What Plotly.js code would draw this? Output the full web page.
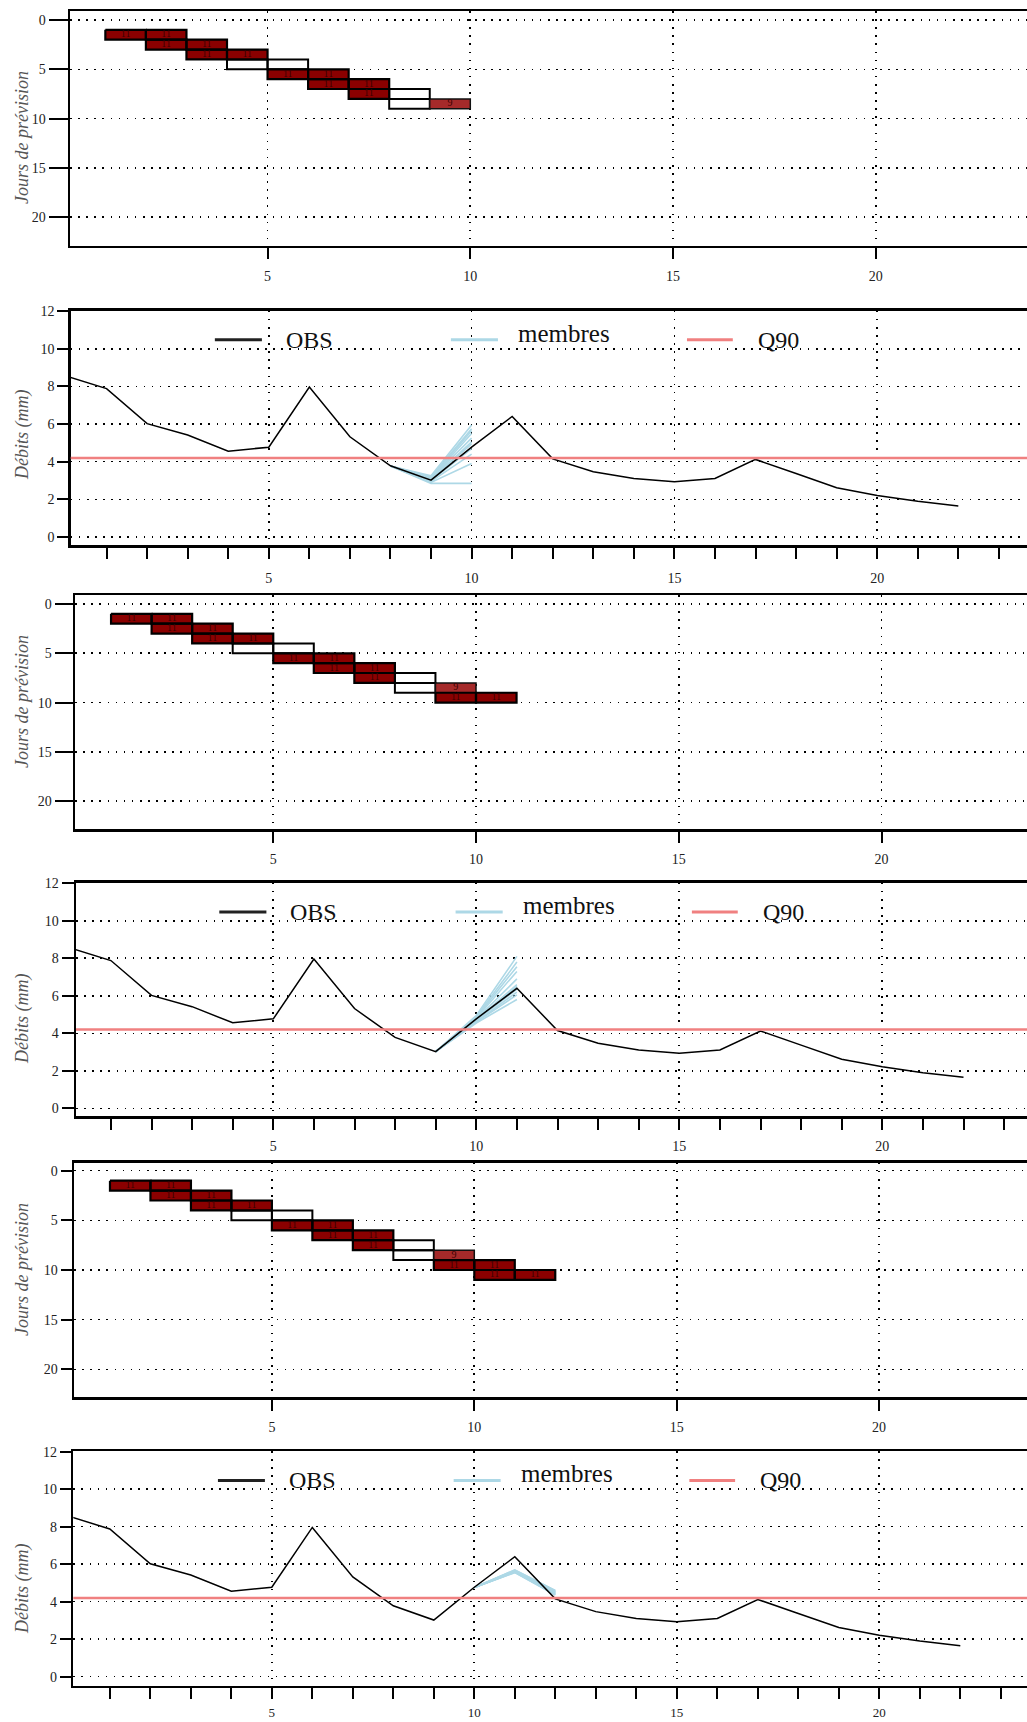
<!DOCTYPE html>
<html><head><meta charset="utf-8">
<script src="https://cdn.plot.ly/plotly-3.0.1.min.js"></script>
<style>html,body{margin:0;padding:0;background:#fff}#chart{width:1027px;height:1722px}</style>
</head><body><div id="chart"></div>
<script>
// ---------------- DATA ----------------
const days = [0,1,2,3,4,5,6,7,8,9,10,11,12,13,14,15,16,17,18,19,20,21,22];
const obs  = [8.55,7.88,6.02,5.42,4.56,4.77,7.96,5.32,3.78,3.02,4.77,6.4,4.15,3.47,3.11,2.93,3.11,4.12,3.37,2.62,2.21,1.9,1.65];
const q90 = 4.2;

// forecast-day grids: row = lead day, col = day, count = members above Q90
const heat1Row   = [1,1,2,2,3,3,4,4,5,5,6,6,7,7,8,8];
const heat1Col   = [1,2,2,3,3,4,4,5,5,6,6,7,7,8,8,9];
const heat1Count = [11,11,11,11,11,11,0,0,11,11,11,11,11,0,0,9];

const heat2Row   = [1,1,2,2,3,3,4,4,5,5,6,6,7,7,8,8,9,9];
const heat2Col   = [1,2,2,3,3,4,4,5,5,6,6,7,7,8,8,9,9,10];
const heat2Count = [11,11,11,11,11,11,0,0,11,11,11,11,11,0,0,9,11,11];

const heat3Row   = [1,1,2,2,3,3,4,4,5,5,6,6,7,7,8,8,9,9,10,10];
const heat3Col   = [1,2,2,3,3,4,4,5,5,6,6,7,7,8,8,9,9,10,10,11];
const heat3Count = [11,11,11,11,11,11,0,0,11,11,11,11,11,0,0,9,11,11,11,11];

// ensemble members
const mem1Days = [8,9,10];
const mem1 = [
  [3.77,2.85,2.85],[3.77,2.9,3.9],[3.77,2.95,4.4],[3.77,3.0,4.7],[3.77,3.05,4.95],
  [3.77,3.05,5.05],[3.77,3.1,5.25],[3.77,3.1,5.5],[3.77,3.15,5.65],[3.77,3.2,5.75],[3.77,3.25,5.95]
];
const mem2Days = [9,10,11];
const mem2 = [
  [3.02,4.55,5.8],[3.02,4.6,6.05],[3.02,4.62,6.2],[3.02,4.66,6.35],[3.02,4.7,6.5],
  [3.02,4.72,6.6],[3.02,4.75,6.9],[3.02,4.8,7.3],[3.02,4.85,7.55],[3.02,4.9,7.8],[3.02,4.95,8.1]
];
const mem3Days = [10,11,12];
const mem3 = [
  [4.76,5.55,4.35],[4.76,5.57,4.38],[4.76,5.58,4.4],[4.76,5.6,4.42],[4.76,5.61,4.45],
  [4.76,5.62,4.48],[4.76,5.63,4.5],[4.76,5.65,4.52],[4.76,5.66,4.55],[4.76,5.68,4.58],[4.76,5.7,4.6]
];

// ---------------- LAYOUT GEOMETRY (px) ----------------
const W = 1027, H = 1722;
const FONT = 'Liberation Serif, Times New Roman, serif';
const geo = [
  {kind:'heat', L:70,   top:11,     bot:245.6,  x0:64.8, ux:40.55, y0:20,     uy:9.86,  ytl:19, tcy:138,  so:5},
  {kind:'line', L:70.7, top:310.7,  bot:545,    x0:66.0, ux:40.56, y0:537,    uy:18.83, ytl:11, tcy:435,  so:8},
  {kind:'heat', L:75.1, top:595,    bot:829,    x0:70.5, ux:40.55, y0:604,    uy:9.86,  ytl:18, tcy:702,  so:5},
  {kind:'line', L:76,   top:882.7,  bot:1116,   x0:70.3, ux:40.6,  y0:1108.3, uy:18.75, ytl:12, tcy:1019, so:5},
  {kind:'heat', L:74,   top:1162.7, bot:1397,   x0:69.5, ux:40.48, y0:1170.7, uy:9.93,  ytl:11, tcy:1270, so:5},
  {kind:'line', L:73.3, top:1451,   bot:1685.7, x0:69.3, ux:40.5,  y0:1676.7, uy:18.75, ytl:11, tcy:1589, so:2}
];

const heats = [
  {row:heat1Row, col:heat1Col, cnt:heat1Count},
  {row:heat2Row, col:heat2Col, cnt:heat2Count},
  {row:heat3Row, col:heat3Col, cnt:heat3Count}
];
const mems = [{d:mem1Days, m:mem1},{d:mem2Days, m:mem2},{d:mem3Days, m:mem3}];

const traces = [];
const layout = {
  width: W, height: H, margin:{l:0,r:0,t:0,b:0},
  paper_bgcolor:'#fff', plot_bgcolor:'#fff', showlegend:false,
  font:{family:FONT, color:'#222'}, hovermode:false,
  shapes:[], annotations:[]
};

const gridDash = '1.6px,6.5px';
function axisBase(){
  return {
    showline:true, linecolor:'#000', linewidth:2.5,
    ticks:'outside', tickcolor:'#000', tickwidth:2,
    showgrid:true, gridcolor:'#000', gridwidth:1.6, griddash:gridDash,
    zeroline:false, tickfont:{family:FONT, size:14, color:'#222'},
    fixedrange:true
  };
}

function cellPolys(h, pick){
  const xs=[], ys=[];
  for(let i=0;i<h.cnt.length;i++){
    if(!pick(h.cnt[i])) continue;
    const c=h.col[i], r=h.row[i];
    xs.push(c, c+1, c+1, c, c, null);
    ys.push(r, r, r+1, r+1, r, null);
  }
  return {x:xs, y:ys};
}

geo.forEach((g, k) => {
  const n = k+1;
  const xa = 'x'+(n===1?'':n), ya = 'y'+(n===1?'':n);
  const xName = 'xaxis'+(n===1?'':n), yName = 'yaxis'+(n===1?'':n);
  const xr = [(g.L-g.x0)/g.ux, (W-g.x0)/g.ux];
  const xAx = Object.assign(axisBase(), {
    domain:[g.L/W, 1], anchor:ya, range:xr, tick0:0, dtick:5,
    ticklen:11, mirror:true, ticklabelstandoff:g.so
  });
  if(n===6) xAx.tickfont = {family:FONT, size:13, color:'#222'};
  const yAx = Object.assign(axisBase(), {
    domain:[1-g.bot/H, 1-g.top/H], anchor:xa, ticklen:g.ytl, mirror:false
  });
  if(g.kind==='heat'){
    yAx.range = [(g.bot-g.y0)/g.uy, (g.top-g.y0)/g.uy];
    yAx.tick0 = 0; yAx.dtick = 5;
  } else {
    yAx.range = [(g.y0-g.bot)/g.uy, (g.y0-g.top)/g.uy];
    yAx.tick0 = 0; yAx.dtick = 2;
    xAx.minor = {dtick:1, tick0:0, ticks:'outside', ticklen:11, tickwidth:2, tickcolor:'#000', showgrid:false};
  }
  layout[xName] = xAx; layout[yName] = yAx;

  // y title
  layout.annotations.push({
    xref:'paper', yref:'paper', x:22/W, y:1-g.tcy/H, xanchor:'center', yanchor:'middle',
    textangle:-90, showarrow:false,
    text: g.kind==='heat' ? '<i>Jours de prévision</i>' : '<i>Débits (mm)</i>',
    font:{family:FONT, size:18, color:'#555'}
  });

  if(g.kind==='heat'){
    const h = heats[(n-1)/2];
    const white = cellPolys(h, c=>c===0);
    traces.push({type:'scatter', mode:'lines', x:white.x, y:white.y, xaxis:xa, yaxis:ya,
      fill:'toself', fillcolor:'#fff', line:{color:'#000', width:2}});
    const light = cellPolys(h, c=>c>0 && c<11);
    traces.push({type:'scatter', mode:'lines', x:light.x, y:light.y, xaxis:xa, yaxis:ya,
      fill:'toself', fillcolor:'#A52A2A', line:{color:'#111', width:1.5}});
    const dark = cellPolys(h, c=>c>=11);
    traces.push({type:'scatter', mode:'lines', x:dark.x, y:dark.y, xaxis:xa, yaxis:ya,
      fill:'toself', fillcolor:'#8B0000', line:{color:'#000', width:2.2}});
    const tx=[], ty=[], tt=[];
    h.cnt.forEach((c,i)=>{ if(c>0){ tx.push(h.col[i]+0.5); ty.push(h.row[i]+0.5); tt.push(String(c)); }});
    traces.push({type:'scatter', mode:'text', x:tx, y:ty, text:tt, xaxis:xa, yaxis:ya,
      textfont:{family:FONT, size:10, color:'#3a0000'}});
  } else {
    const m = mems[n/2-1];
    const mx=[], my=[];
    m.m.forEach(arr=>{ arr.forEach((v,j)=>{ mx.push(m.d[j]); my.push(v); }); mx.push(null); my.push(null); });
    traces.push({type:'scatter', mode:'lines', x:mx, y:my, xaxis:xa, yaxis:ya,
      line:{color:'#ADD8E6', width:1.6}});
    traces.push({type:'scatter', mode:'lines', x:days, y:obs, xaxis:xa, yaxis:ya,
      line:{color:'#000', width:1.5}});
    layout.shapes.push({type:'line', xref:xa+' domain', yref:ya, x0:0, x1:1, y0:q90, y1:q90,
      line:{color:'#F08080', width:2.5}, layer:'above'});
    // legend
    const legY = 10.47;
    const items = [
      {x0:3.67, x1:4.83, tx:5.37, dy:0,    col:'#222',    lab:'OBS', fs:24},
      {x0:9.49, x1:10.65, tx:11.1, dy:0.36, col:'#ADD8E6', lab:'membres', fs:25},
      {x0:15.31, x1:16.44, tx:17.0, dy:0,   col:'#F08080', lab:'Q90', fs:24}
    ];
    items.forEach(it=>{
      layout.shapes.push({type:'line', xref:xa, yref:ya, x0:it.x0, x1:it.x1, y0:legY, y1:legY,
        line:{color:it.col, width:3}, layer:'above'});
      layout.annotations.push({xref:xa, yref:ya, x:it.tx, y:legY+it.dy, xanchor:'left', yanchor:'middle',
        showarrow:false, text:it.lab, font:{family:FONT, size:it.fs, color:'#111'}});
    });
  }
});

Plotly.newPlot('chart', traces, layout, {displayModeBar:false, staticPlot:true});
</script>
</body></html>
